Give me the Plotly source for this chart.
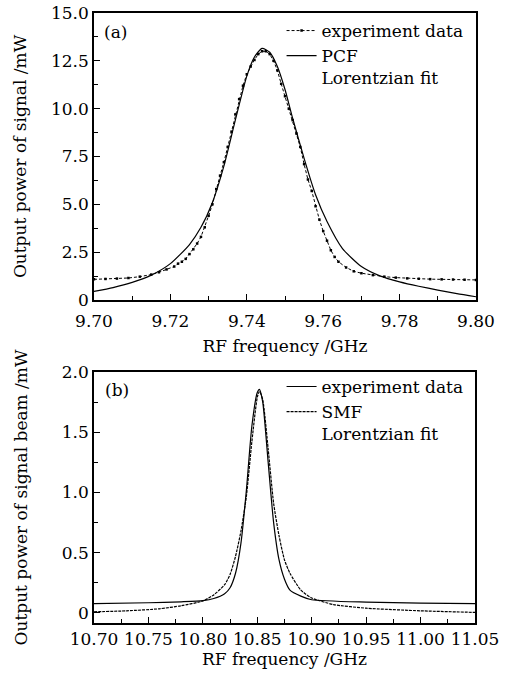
import plotly.graph_objects as go

# ---------- panel (a): PCF ----------
exp_a_x = [9.700, 9.703, 9.706, 9.709, 9.712, 9.715, 9.717, 9.719, 9.721, 9.722,
           9.723, 9.724, 9.725, 9.726, 9.727, 9.728, 9.729, 9.730, 9.731, 9.732,
           9.733, 9.734, 9.735, 9.736, 9.737, 9.738, 9.739, 9.740, 9.741, 9.742,
           9.743, 9.744, 9.745, 9.746, 9.747, 9.748, 9.749, 9.750, 9.751, 9.752,
           9.753, 9.754, 9.755, 9.756, 9.757, 9.758, 9.759, 9.760, 9.761, 9.762,
           9.763, 9.764, 9.766, 9.768, 9.770, 9.773, 9.776, 9.779, 9.782, 9.785,
           9.788, 9.791, 9.794, 9.797, 9.800]
exp_a_y = [1.08, 1.10, 1.12, 1.15, 1.22, 1.33, 1.45, 1.60, 1.75, 1.90,
           2.00, 2.15, 2.40, 2.65, 2.95, 3.30, 3.80, 4.40, 5.00, 5.80,
           6.50, 7.20, 8.00, 8.80, 9.70, 10.50, 11.20, 11.80, 12.20, 12.55,
           12.85, 13.00, 13.00, 12.85, 12.50, 12.00, 11.30, 10.65, 10.00, 9.40,
           8.70, 8.00, 7.10, 6.30, 5.70, 4.90, 4.20, 3.60, 3.10, 2.60,
           2.25, 2.00, 1.70, 1.50, 1.40, 1.30, 1.22, 1.17, 1.13, 1.11,
           1.09, 1.08, 1.07, 1.06, 1.05]

fit_a_x = [9.700, 9.705, 9.710, 9.715, 9.720, 9.725, 9.728, 9.731, 9.734, 9.737,
           9.740, 9.742, 9.744, 9.746, 9.748, 9.750, 9.752, 9.755, 9.758, 9.761,
           9.765, 9.770, 9.775, 9.780, 9.785, 9.790, 9.795, 9.800]
fit_a_y = [0.45, 0.65, 0.92, 1.30, 1.90, 2.90, 3.80, 5.10, 7.00, 9.40,
           11.70, 12.70, 13.15, 12.95, 12.20, 11.00, 9.50, 7.40, 5.50, 4.10,
           2.70, 1.75, 1.25, 0.95, 0.72, 0.52, 0.33, 0.17]

# ---------- panel (b): SMF ----------
exp_b_x = [10.700, 10.750, 10.780, 10.800, 10.810, 10.820, 10.825, 10.830, 10.835, 10.840,
           10.845, 10.850, 10.852, 10.855, 10.860, 10.865, 10.870, 10.875, 10.880, 10.890,
           10.900, 10.950, 11.000, 11.050]
exp_b_y = [0.078, 0.085, 0.093, 0.102, 0.120, 0.160, 0.210, 0.330, 0.580, 1.020,
           1.550, 1.830, 1.855, 1.750, 1.250, 0.750, 0.440, 0.280, 0.190, 0.140,
           0.110, 0.090, 0.082, 0.078]

fit_b_x = [10.700, 10.730, 10.760, 10.780, 10.800, 10.810, 10.820, 10.825, 10.830, 10.835,
           10.840, 10.845, 10.850, 10.852, 10.855, 10.860, 10.865, 10.870, 10.875, 10.880,
           10.890, 10.900, 10.920, 10.950, 11.000, 11.050]
fit_b_y = [0.010, 0.018, 0.035, 0.060, 0.100, 0.150, 0.235, 0.320, 0.470, 0.680,
           0.970, 1.420, 1.790, 1.840, 1.770, 1.360, 0.910, 0.640, 0.440, 0.330,
           0.190, 0.125, 0.070, 0.040, 0.018, 0.005]

# ---------- tick labels ----------
xa_tickvals = [9.70, 9.72, 9.74, 9.76, 9.78, 9.80]
xa_ticktext = ["9.70", "9.72", "9.74", "9.76", "9.78", "9.80"]
ya_tickvals = [0, 2.5, 5.0, 7.5, 10.0, 12.5, 15.0]
ya_ticktext = ["0", "2.5", "5.0", "7.5", "10.0", "12.5", "15.0"]
xb_tickvals = [10.70, 10.75, 10.80, 10.85, 10.90, 10.95, 11.00, 11.05]
xb_ticktext = ["10.70", "10.75", "10.80", "10.85", "10.90", "10.95", "11.00", "11.05"]
yb_tickvals = [0, 0.5, 1.0, 1.5, 2.0]
yb_ticktext = ["0", "0.5", "1.0", "1.5", "2.0"]

FONT = "DejaVu Serif"
FS = 17

fig = go.Figure()

fig.add_trace(go.Scatter(
    x=exp_a_x, y=exp_a_y, mode="lines+markers", name="experiment data",
    line=dict(color="black", width=1, dash="3px,2px"),
    marker=dict(color="black", size=2.5, symbol="square"),
    xaxis="x", yaxis="y", legend="legend"))
fig.add_trace(go.Scatter(
    x=fit_a_x, y=fit_a_y, mode="lines", name="PCF<br>Lorentzian fit",
    line=dict(color="black", width=1.2, shape="spline", smoothing=0.6),
    xaxis="x", yaxis="y", legend="legend"))

fig.add_trace(go.Scatter(
    x=exp_b_x, y=exp_b_y, mode="lines", name="experiment data",
    line=dict(color="black", width=1.2, shape="spline", smoothing=0.6),
    xaxis="x2", yaxis="y2", legend="legend2"))
fig.add_trace(go.Scatter(
    x=fit_b_x, y=fit_b_y, mode="lines", name="SMF<br>Lorentzian fit",
    line=dict(color="black", width=1.2, dash="3px,1px", shape="spline", smoothing=0.6),
    xaxis="x2", yaxis="y2", legend="legend2"))

axis_common = dict(
    showline=True, linecolor="black", linewidth=1.5, mirror=True,
    ticks="inside", ticklen=6, tickwidth=1.2, tickcolor="black",
    showgrid=False, zeroline=False, automargin=False, ticklabeloverflow="allow",
    tickfont=dict(family=FONT, size=FS, color="black"),
)

fig.update_layout(
    width=515, height=677,
    margin=dict(l=94, r=39, t=13, b=54, autoexpand=False),
    paper_bgcolor="white", plot_bgcolor="white",
    font=dict(family=FONT, size=FS, color="black"),
    xaxis=dict(**axis_common, domain=[0, 1], anchor="y", range=[9.70, 9.80],
               tickvals=xa_tickvals, ticktext=xa_ticktext, ticklabelstandoff=5,
               minor=dict(ticks="inside", ticklen=4, tickwidth=1, tickcolor="black", dtick=0.01, tick0=9.70),
               title=dict(text="RF frequency /GHz", font=dict(family=FONT, size=FS), standoff=10)),
    yaxis=dict(**axis_common, domain=[0.5295, 1], anchor="x", range=[0, 15],
               tickvals=ya_tickvals, ticktext=ya_ticktext,
               minor=dict(ticks="inside", ticklen=4, tickwidth=1, tickcolor="black", dtick=1.25, tick0=0),
               title=dict(text="Output power of signal /mW", font=dict(family=FONT, size=FS), standoff=20)),
    xaxis2=dict(**axis_common, domain=[0, 0.9974], anchor="y2", range=[10.70, 11.05],
                tickvals=xb_tickvals, ticktext=xb_ticktext,
                minor=dict(ticks="inside", ticklen=4, tickwidth=1, tickcolor="black", dtick=0.025, tick0=10.70),
                title=dict(text="RF frequency /GHz", font=dict(family=FONT, size=FS), standoff=2)),
    yaxis2=dict(**axis_common, domain=[0, 0.4115], anchor="x2", range=[-0.083, 2.0],
                tickvals=yb_tickvals, ticktext=yb_ticktext,
                minor=dict(ticks="inside", ticklen=4, tickwidth=1, tickcolor="black", dtick=0.25, tick0=0),
                title=dict(text="Output power of signal beam /mW", font=dict(family=FONT, size=FS), standoff=30)),
    legend=dict(x=0.491, y=1.0, xanchor="left", yanchor="top", bgcolor="rgba(0,0,0,0)",
                font=dict(family=FONT, size=FS), itemwidth=30, valign="top", tracegroupgap=0),
    legend2=dict(x=0.491, y=0.4165, xanchor="left", yanchor="top", bgcolor="rgba(0,0,0,0)",
                 font=dict(family=FONT, size=FS), itemwidth=30, valign="top", tracegroupgap=0),
    showlegend=True,
    annotations=[
        dict(text="(a)", x=0.055, y=0.969, xref="paper", yref="paper", showarrow=False,
             xanchor="center", yanchor="middle", font=dict(family=FONT, size=FS)),
        dict(text="(b)", x=0.06, y=0.382, xref="paper", yref="paper", showarrow=False,
             xanchor="center", yanchor="middle", font=dict(family=FONT, size=FS)),
    ],
)

fig.write_html("out.html", config={"displayModeBar": False},
               post_script="document.body.style.margin='0';")
